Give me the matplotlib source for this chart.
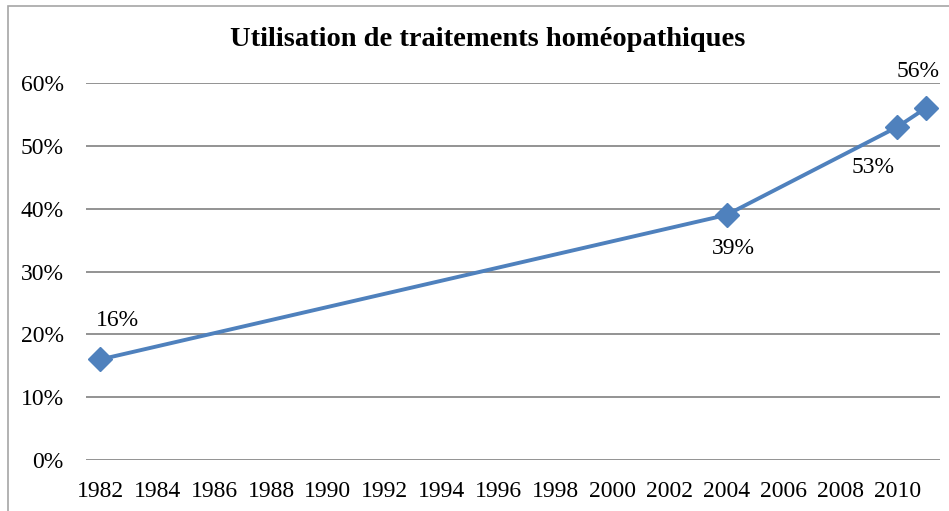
import matplotlib
matplotlib.use("Agg")
import matplotlib.pyplot as plt
from matplotlib.patches import Rectangle

# data
years = [1982, 2004, 2010, 2011]
usage = [0.16, 0.39, 0.53, 0.56]
label_text = ["16%", "39%", "53%", "56%"]
# label offsets (pixels) relative to the point
label_dx = [17, 7, -24, -8]
label_dy = [39, -34, -41, 37]
x_ticks = list(range(1982, 2011, 2))
y_ticks = [0, 0.1, 0.2, 0.3, 0.4, 0.5, 0.6]

plt.rcParams['font.family'] = ['Liberation Serif', 'DejaVu Serif']

fig = plt.figure(figsize=(9.49, 5.11), dpi=100)
ax = fig.add_axes([86 / 949, 1 - 460 / 511, (940 - 86) / 949, (460 - 83) / 511])

# outer frame of the chart
fig.patches.append(Rectangle((8 / 949, -0.1), 1.2, 1 - 6 / 511 + 0.1,
                             transform=fig.transFigure, fill=False,
                             edgecolor='#a6a6a6', linewidth=1.2))

ax.plot(years, usage, color='#4f81bd', linewidth=2.8, marker='D',
        markersize=12, zorder=3)

for x, y, t, dx, dy in zip(years, usage, label_text, label_dx, label_dy):
    ax.annotate(t, (x, y), xytext=(dx, dy), textcoords='offset pixels',
                ha='center', va='center', fontsize=17)

ax.set_xlim(1981.5, 2011.5)
ax.set_ylim(0, 0.6)
ax.set_xticks(x_ticks)
ax.set_yticks(y_ticks)
ax.set_yticklabels([f"{int(round(v * 100))}%" for v in y_ticks])
ax.tick_params(axis='both', length=0, labelsize=17)
ax.tick_params(axis='y', pad=16)
ax.tick_params(axis='x', pad=15)
ax.grid(axis='y', color='#808080', linewidth=1.2)
ax.set_axisbelow(True)
for s in ax.spines.values():
    s.set_visible(False)

fig.text(488 / 949, 1 - 40 / 511, "Utilisation de traitements homéopathiques",
         ha='center', va='center', fontsize=20.5, fontweight='bold')

fig.savefig("out.png", dpi=100)
